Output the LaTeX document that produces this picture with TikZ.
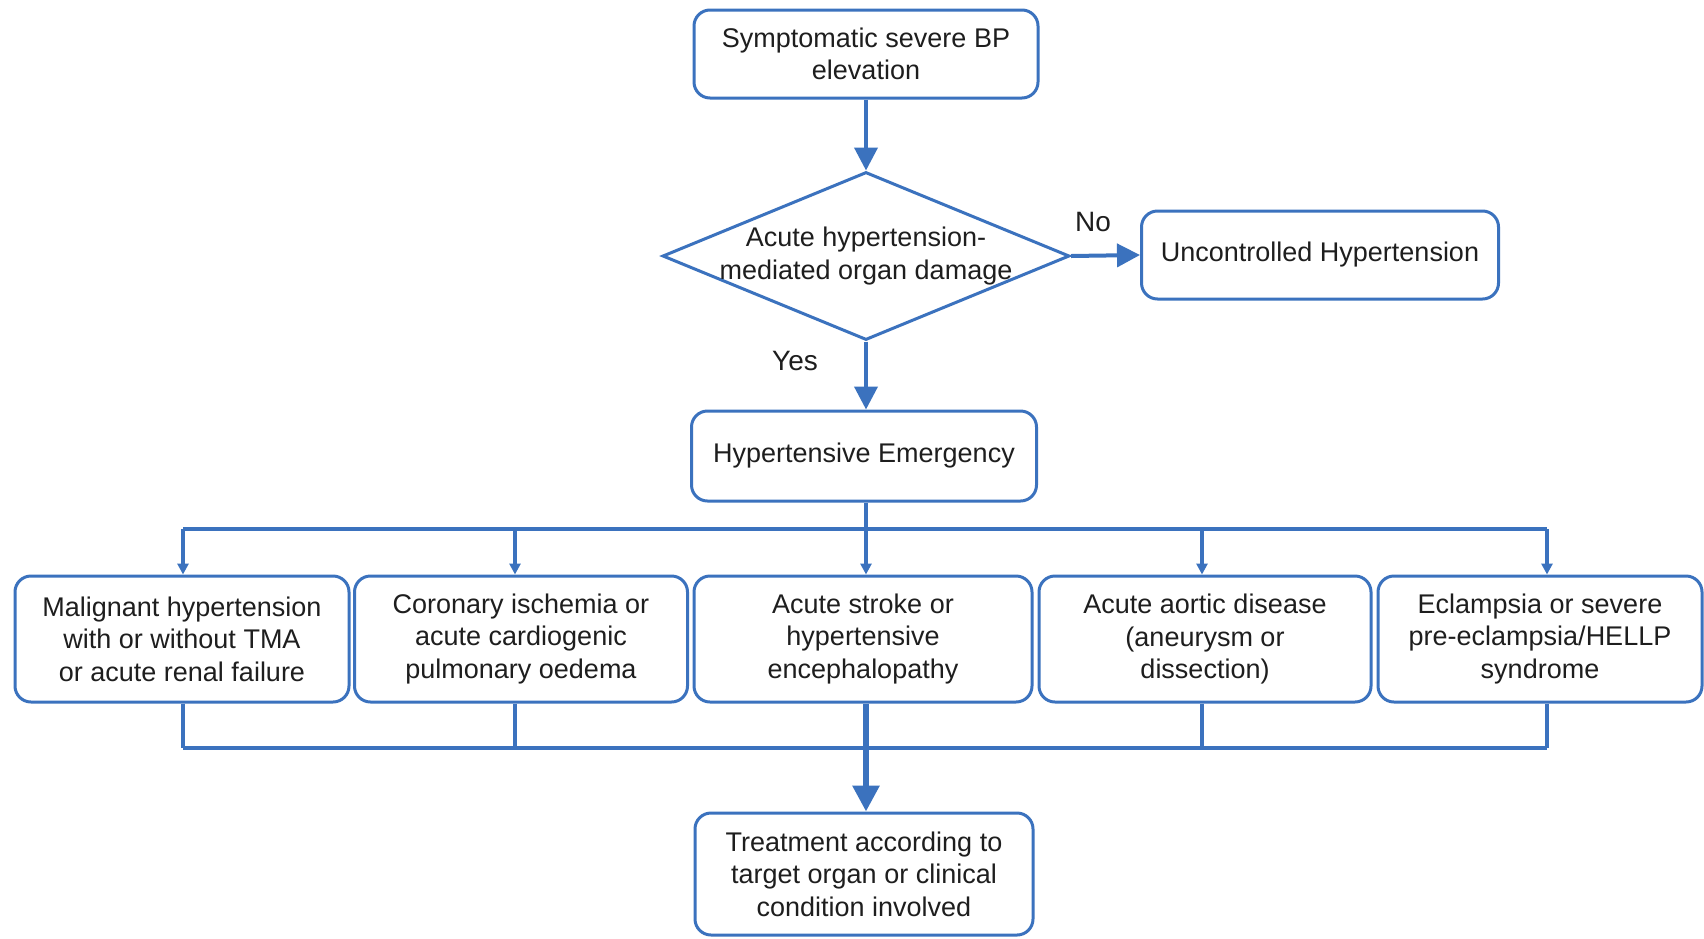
\documentclass[tikz,border=0pt]{standalone}
\usepackage{fontspec}
\setmainfont{Liberation Sans}
\usetikzlibrary{shapes.geometric,arrows.meta}
\definecolor{fblue}{RGB}{59,114,190}
\definecolor{ftext}{RGB}{30,30,30}
\begin{document}
\begin{tikzpicture}[x=1pt,y=-1pt,
  every node/.style={font=\fontsize{27}{32.5}\selectfont, text=ftext},
  box/.style={draw=fblue, line width=3pt, rounded corners=16pt, align=center, inner sep=0pt},
  dia/.style={draw=fblue, line width=3pt, diamond, shape aspect=2.44, inner xsep=-28pt, inner ysep=0pt, minimum width=407pt, minimum height=168pt, align=center},
  mainarrow/.style={draw=fblue, line width=4pt, -{Triangle[length=23pt,width=23pt]}},
  smallarrow/.style={draw=fblue, line width=3.5pt, -{Triangle[length=11pt,width=11pt]}},
  conn/.style={draw=fblue, line width=3.5pt},
  lbl/.style={font=\fontsize{28}{32}\selectfont}
]
\useasboundingbox (0,0) rectangle (1704,938);
\fill[white] (0,0) rectangle (1704,938);

\node[box, minimum width=344pt, minimum height=88pt] (top) at (866,54) {Symptomatic severe BP\\elevation};
\node[dia] (dmg) at (866,256) {Acute hypertension-\\mediated organ damage};
\node[box, minimum width=357pt, minimum height=88pt] (unc) at (1320,255) {Uncontrolled Hypertension};
\node[box, minimum width=345pt, minimum height=90pt] (he) at (864,456) {Hypertensive Emergency};

\node[box, minimum width=334pt, minimum height=126pt] (b1) at (182,639) {Malignant hypertension\\with or without TMA\\or acute renal failure};
\node[box, minimum width=333pt, minimum height=126pt] (b2) at (521,639) {Coronary ischemia or\\acute cardiogenic\\pulmonary oedema};
\node[box, minimum width=338pt, minimum height=126pt] (b3) at (863,639) {Acute stroke or\\hypertensive\\encephalopathy};
\node[box, minimum width=332pt, minimum height=126pt] (b4) at (1205,639) {Acute aortic disease\\(aneurysm or\\dissection)};
\node[box, minimum width=324pt, minimum height=126pt] (b5) at (1540,639) {Eclampsia or severe\\pre-eclampsia/HELLP\\syndrome};

\node[box, minimum width=338pt, minimum height=122pt] (tr) at (864,874) {Treatment according to\\target organ or clinical\\condition involved};

\node[lbl] (no) at (1093,222) {No};
\node[lbl] (yes) at (795,361) {Yes};

\coordinate (split) at (866,529);
\coordinate (join) at (866,748);
\coordinate (x1) at (183,0);
\coordinate (x2) at (515,0);
\coordinate (x3) at (866,0);
\coordinate (x4) at (1202,0);
\coordinate (x5) at (1547,0);

\draw[mainarrow] (top) -- (dmg);
\draw[mainarrow] (dmg.east) -- (unc.west);
\draw[mainarrow] (dmg.south) -- (he.north -| dmg.south);

\draw[conn] (he.south -| split) -- (split);
\draw[conn] (x1 |- split) -- (x5 |- split);
\foreach \i/\b in {1/b1,2/b2,3/b3,4/b4,5/b5}{
  \draw[smallarrow] (x\i |- split) -- (x\i |- \b.north);
}
\foreach \i/\b in {1/b1,2/b2,4/b4,5/b5}{
  \draw[conn] (x\i |- \b.south) -- (x\i |- join);
}
\draw[conn] (x1 |- join) -- (x5 |- join);
\draw[draw=fblue, line width=6pt, -{Triangle[length=26pt,width=26pt]}] (x3 |- b3.south) -- (x3 |- tr.north);
\end{tikzpicture}
\end{document}
